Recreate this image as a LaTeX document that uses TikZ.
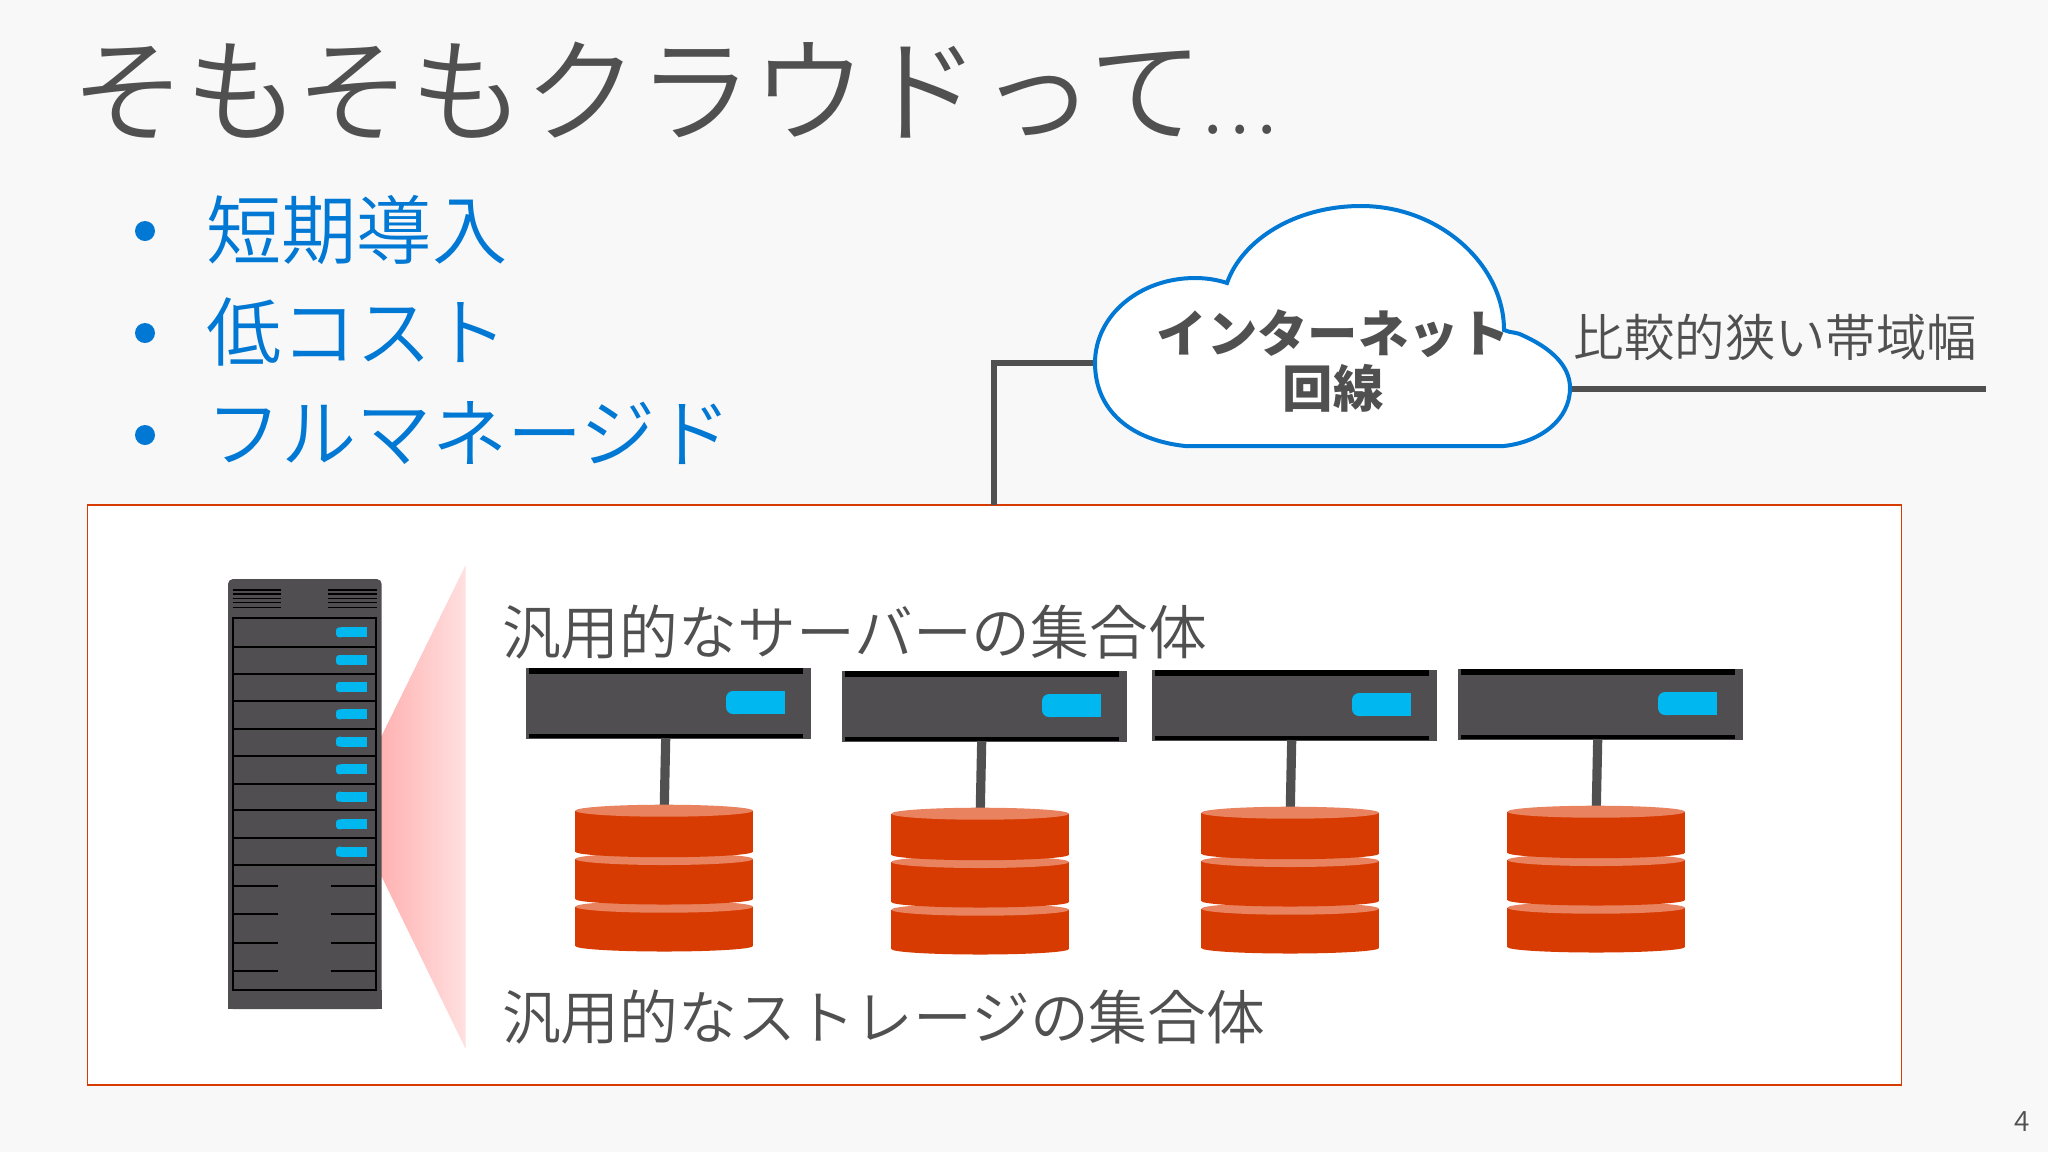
\documentclass[tikz,border=0pt]{standalone}
\usepackage{fontspec}
\usetikzlibrary{calc}
\newfontfamily\jplight{Noto Sans CJK JP DemiLight}
\newfontfamily\jp{Noto Sans CJK JP}
\definecolor{slidebg}{HTML}{F8F8F8}
\definecolor{ink}{HTML}{505050}
\definecolor{bluetxt}{HTML}{0078D4}
\definecolor{orangeline}{HTML}{D83B01}
\definecolor{dbtop}{HTML}{E8825F}
\definecolor{rackgray}{HTML}{504E51}
\definecolor{pill}{HTML}{00B7F0}
\definecolor{pinkl}{HTML}{FFB2B2}
\definecolor{pinkm}{HTML}{FFCDCD}
\definecolor{pinkr}{HTML}{FFE0E0}
\tikzset{
  txt/.style={inner sep=0pt,outer sep=0pt,text=ink,font=\jplight},
  bullettxt/.style={inner sep=0pt,anchor=west,text=bluetxt,font=\jplight\fontsize{37.6}{44}\selectfont},
  dot/.style={circle,fill=bluetxt,minimum size=10pt,inner sep=0pt},
  wire/.style={draw=ink,line width=2.7pt},
  srv/.style={fill=rackgray,minimum width=142.35pt,minimum height=35.65pt,inner sep=0pt,outer sep=0pt},
  dbn/.style={minimum width=88.85pt,minimum height=74pt,inner sep=0pt,outer sep=0pt},
  rackline/.style={line width=0.9pt,draw=black},
}
\newcommand{\dbdisk}[2]{% top y, side bottom y
  \fill[orangeline] (575.3,#1) rectangle (753,#2);
  \fill[orangeline] (664.15,#2) ellipse[x radius=88.85,y radius=5.5];
  \fill[dbtop] (664.15,#1) ellipse[x radius=88.85,y radius=6];
}
\begin{document}
\begin{tikzpicture}[x=0.5pt,y=-0.5pt]
\useasboundingbox (0,0) rectangle (2048,1152);
\fill[slidebg] (0,0) rectangle (2048,1152);

% title and bullets
\node[txt,anchor=west,font=\jplight\fontsize{57}{66}\selectfont] (title) at (71,91) {そもそもクラウドって{\fontsize{36}{60}\selectfont .\hspace{4pt}.\hspace{4pt}.}};
\node[dot] (d1) at (145,231) {};
\node[dot] (d2) at (145,333) {};
\node[dot] (d3) at (145,435) {};
\node[bullettxt] (b1) at (206,230) {短期導入};
\node[bullettxt] (b2) at (206,332) {低コスト};
\node[bullettxt] (b3) at (206,433) {フルマネージド};

% main box
\node[draw=orangeline,fill=white,line width=0.8pt,minimum width=907pt,minimum height=290pt,inner sep=0pt] (box) at (994.5,795) {};
\coordinate (boxtop) at (994,505);

% cloud
\coordinate (cloudw) at (1095,363);
\coordinate (cloude) at (1570,389);
\coordinate (lineend) at (1985.5,389);
\draw[wire] (boxtop) |- (cloudw);
\draw[wire,line width=3pt] (cloude) -- (lineend);
\draw[draw=bluetxt,fill=white,line width=2pt] (1185,446)
  .. controls (1130,440) and (1095,410) .. (1095,363)
  .. controls (1095,315) and (1140,278) .. (1195,278)
  .. controls (1207,278) and (1218,280) .. (1227,283)
  .. controls (1242,240) and (1295,206) .. (1361,206)
  .. controls (1440,206) and (1504,265) .. (1504,330)
  .. controls (1510,333) and (1518,332) .. (1524,336)
  .. controls (1550,348) and (1570,365) .. (1570,388)
  .. controls (1570,420) and (1540,442) .. (1504,446) -- cycle;
\node[txt,font=\jp\bfseries\fontsize{25.2}{27}\selectfont,align=center] (cl1) at (1333,334) {インターネット};
\node[txt,font=\jp\bfseries\fontsize{25.2}{27}\selectfont,align=center] (cl2) at (1333,388) {回線};
\node[txt,font=\jplight\fontsize{25.2}{30}\selectfont] (narrow) at (1775.5,337) {比較的狭い帯域幅};

% rack
\shade[left color=pinkl,middle color=pinkm,right color=pinkr] (381.7,735.7) -- (465.7,565) -- (465.7,1049) -- (381.7,876.7) -- cycle;
\fill[rackgray,rounded corners=2.5pt] (228,1009) -- (228,579) -- (381.7,579) -- (381.7,1009) -- cycle;
\fill[rackgray] (228,990) rectangle (381.7,1009);
\foreach \y in {590,594,598.3,602.7,607.7}{
  \draw[rackline,line width=0.6pt] (232.7,\y) -- (281,\y) (328,\y) -- (376.7,\y);
}
\draw[rackline] (232.7,618) rectangle (376,990);
\foreach \y in {646.7,674,701.3,728.7,756,783.7,810.3,837.7,865.3}{
  \draw[rackline] (232.7,\y) -- (376,\y);
}
\foreach \y in {632.3,660,687,714.3,741.7,769.3,796.7,824.3,851.7}{
  \fill[pill,rounded corners=1.6pt] (344,\y-5) -- (336,\y-5) -- (336,\y+5) -- (344,\y+5) -- cycle;
  \fill[pill] (341,\y-5) rectangle (366.7,\y+5);
}
\foreach \y in {885.7,914,942.7,971.3}{
  \draw[rackline] (232.7,\y) -- (278,\y) (330.7,\y) -- (376,\y);
}

% labels in the box
\node[txt,anchor=west,font=\jplight\fontsize{29.4}{34}\selectfont] (lab1) at (502,632) {汎用的なサーバーの集合体};
\node[txt,anchor=west,font=\jplight\fontsize{29.4}{34}\selectfont] (lab2) at (502,1017) {汎用的なストレージの集合体};

% servers with storage
\foreach \i/\dx/\dy in {1/0/0,2/316/3,3/626/2,4/932/1}{
  \begin{scope}[shift={(\dx,\dy)}]
    \node[srv] (srv\i) at (668.35,703.35) {};
    \fill[black] (529.3,668) rectangle (803,674);
    \fill[black] (529.3,734) rectangle (803,738);
    \fill[pill,rounded corners=3.5pt] (745,691) -- (726,691) -- (726,714) -- (745,714) -- cycle;
    \fill[pill] (736,691) rectangle (785,714);
    \node[dbn] (db\i) at (664.15,878) {};
    \coordinate (up\i) at (665.7,738);
    \coordinate (dn\i) at (664.3,806);
    \draw[wire,line width=4.6pt] (up\i) -- (dn\i);
    \dbdisk{906.7}{946}
    \dbdisk{859}{899}
    \dbdisk{810.7}{851.7}
  \end{scope}
}

\node[txt,font=\jplight\fontsize{14}{16}\selectfont] (pg) at (2022,1122) {4};
\end{tikzpicture}
\end{document}
